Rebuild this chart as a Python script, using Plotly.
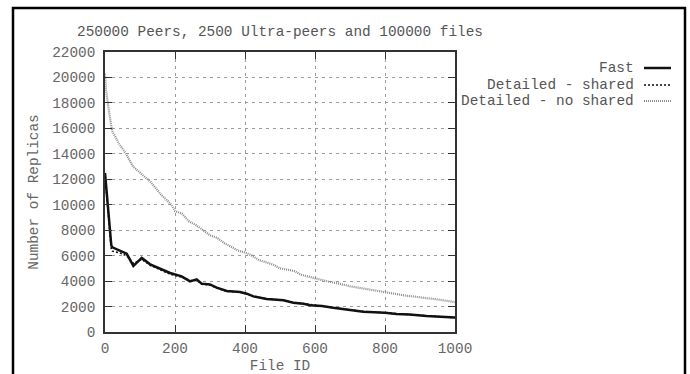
import plotly.graph_objects as go

# ---- data ----
fast_x = [0, 5, 18, 21, 43, 62, 81, 105, 129, 157, 186, 219, 243, 262, 276, 300,
          319, 348, 386, 405, 424, 462, 510, 538, 567, 586, 620, 652, 681, 700,
          738, 770, 800, 833, 870, 919, 960, 1000]
fast_y = [12500, 11000, 6800, 6650, 6420, 6160, 5190, 5820, 5320, 4980, 4640, 4370,
          3980, 4140, 3800, 3740, 3480, 3220, 3140, 3010, 2800, 2590, 2490, 2300,
          2220, 2100, 2050, 1910, 1810, 1780, 1600, 1560, 1520, 1410, 1380, 1260,
          1200, 1130]
shared_y = [12300, 10500, 6500, 6350, 6200, 6000, 5400, 5700, 5250, 4900, 4550, 4300,
            4050, 4050, 3750, 3700, 3450, 3200, 3120, 3000, 2820, 2600, 2500, 2320,
            2220, 2120, 2050, 1930, 1830, 1780, 1620, 1560, 1500, 1420, 1370, 1280,
            1190, 1120]
noshared_x = [0, 3, 8, 15, 20, 40, 60, 80, 100, 130, 160, 190, 200, 220, 240, 260,
              280, 300, 320, 340, 360, 380, 400, 420, 440, 460, 480, 500, 520, 540,
              560, 580, 600, 620, 640, 660, 680, 700, 720, 740, 760, 780, 800, 820,
              840, 860, 880, 900, 920, 940, 960, 980, 1000]
noshared_y = [20300, 19000, 18000, 16500, 15800, 14800, 14000, 13000, 12500, 11800,
              10800, 10000, 9500, 9300, 8700, 8400, 8000, 7600, 7400, 7000, 6700,
              6400, 6250, 6000, 5650, 5500, 5300, 5000, 4900, 4800, 4500, 4350, 4250,
              4100, 3950, 3850, 3700, 3600, 3500, 3400, 3300, 3200, 3150, 3000, 2900,
              2850, 2800, 2700, 2650, 2600, 2500, 2450, 2350]

series_names = ["Fast", "Detailed - shared", "Detailed - no shared"]
title_text = "250000 Peers, 2500 Ultra-peers and 100000 files"
x_ticks = [0, 200, 400, 600, 800, 1000]
x_ticktext = ["0", "200", "400", "600", "800", "1000"]
y_ticks = [0, 2000, 4000, 6000, 8000, 10000, 12000, 14000, 16000, 18000, 20000, 22000]
y_ticktext = ["0", "2000", "4000", "6000", "8000", "10000", "12000", "14000",
              "16000", "18000", "20000", "22000"]

FONT = "Liberation Mono, Courier New, monospace"
FS = 14.4
styles = [
    dict(color="#111111", width=2.5, dash="solid"),
    dict(color="#111111", width=1.6, dash="2px,2px"),
    dict(color="#8a8a8a", width=2.2, dash="1px,1px"),
]

fig = go.Figure()
fig.add_trace(go.Scatter(x=noshared_x, y=noshared_y, mode="lines",
                         name=series_names[2], line=styles[2]))
fig.add_trace(go.Scatter(x=fast_x, y=shared_y, mode="lines",
                         name=series_names[1], line=styles[1]))
fig.add_trace(go.Scatter(x=fast_x, y=fast_y, mode="lines",
                         name=series_names[0], line=styles[0]))

L, R, T, B = 105, 235, 52, 42
W, H = 690 - L - R, 374 - T - B

def px_x(p):
    return (p - L) / W

def px_y(p):
    return (374 - B - p) / H

axis_common = dict(
    showgrid=True, gridcolor="#9a9a9a", gridwidth=1, griddash="3px,4px",
    showline=True, linecolor="#333333", linewidth=1.5, mirror="ticks",
    ticks="inside", ticklen=7, tickcolor="#333333", tickwidth=1.2,
    zeroline=False, automargin=False,
    tickfont=dict(family=FONT, size=FS, color="#666666"),
)

fig.update_layout(
    width=690, height=374,
    margin=dict(l=L, r=R, t=T, b=B),
    paper_bgcolor="white", plot_bgcolor="white",
    showlegend=False,
    font=dict(family=FONT, size=FS, color="#444444"),
    title=dict(text=title_text, x=px_x(280), xref="paper", xanchor="center",
               y=1 - 31 / 374, yref="container", yanchor="middle",
               font=dict(family=FONT, size=FS, color="#555555")),
    xaxis=dict(range=[0, 1000], tickvals=x_ticks, ticktext=x_ticktext,
               ticklabelstandoff=2,
               title=dict(text="File ID", standoff=6,
                          font=dict(family=FONT, size=FS, color="#666666")),
               **axis_common),
    yaxis=dict(range=[0, 22000], tickvals=y_ticks, ticktext=y_ticktext,
               ticklabelstandoff=5,
               title=dict(text="Number of Replicas", standoff=10,
                          font=dict(family=FONT, size=FS, color="#666666")),
               **axis_common),
)

# outer frame of the figure
fig.add_shape(type="rect", xref="paper", yref="paper",
              x0=px_x(13), x1=px_x(685), y0=px_y(390), y1=px_y(8),
              line=dict(color="black", width=2.5), fillcolor="rgba(0,0,0,0)")

# gnuplot-style key: right-aligned text with sample to the right
rows_px = [68, 85, 101]
for name, st, ry in zip(series_names, styles, rows_px):
    fig.add_annotation(text=name, xref="paper", yref="paper",
                       x=px_x(636), y=px_y(ry), xanchor="right", yanchor="middle",
                       showarrow=False,
                       font=dict(family=FONT, size=FS, color="#555555"))
    fig.add_shape(type="line", xref="paper", yref="paper",
                  x0=px_x(644), x1=px_x(671), y0=px_y(ry), y1=px_y(ry),
                  line=dict(color=st["color"], width=st["width"], dash=st["dash"]))

fig.write_html("out.html")
